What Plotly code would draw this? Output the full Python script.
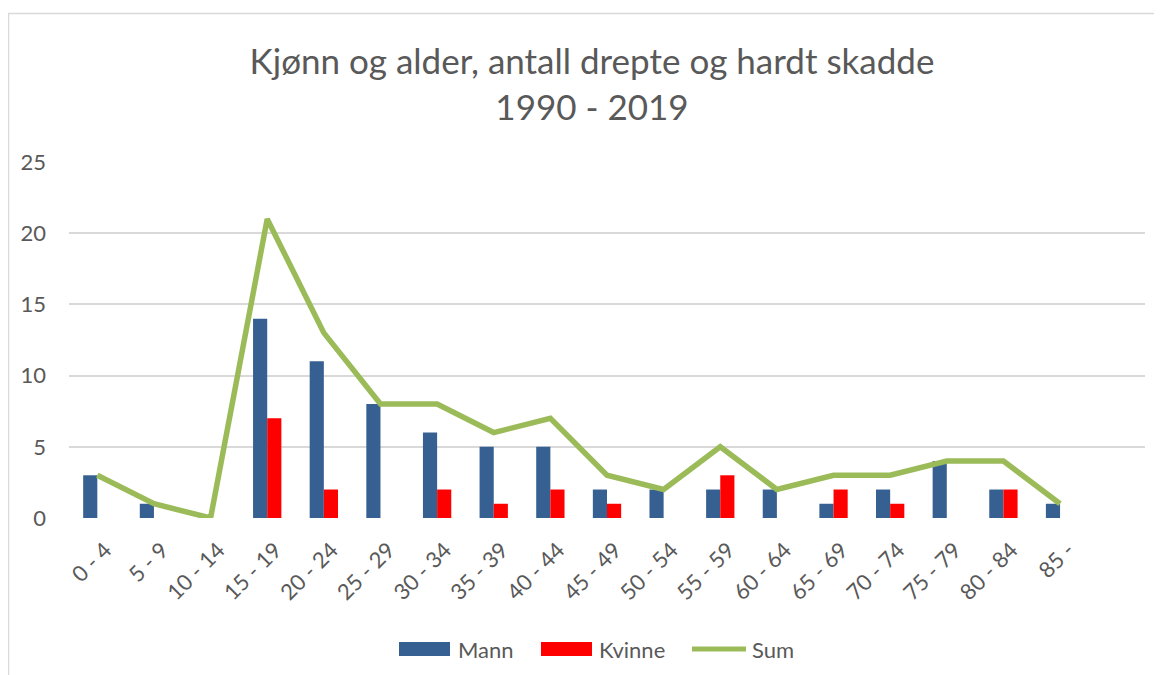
import plotly.graph_objects as go

# ---- data ----
age_groups = ["0 - 4", "5 - 9", "10 - 14", "15 - 19", "20 - 24", "25 - 29", "30 - 34",
              "35 - 39", "40 - 44", "45 - 49", "50 - 54", "55 - 59", "60 - 64",
              "65 - 69", "70 - 74", "75 - 79", "80 - 84", "85 -"]
mann = [3, 1, 0, 14, 11, 8, 6, 5, 5, 2, 2, 2, 2, 1, 2, 4, 2, 1]
kvinne = [0, 0, 0, 7, 2, 0, 2, 1, 2, 1, 0, 3, 0, 2, 1, 0, 2, 0]
total = [3, 1, 0, 21, 13, 8, 8, 6, 7, 3, 2, 5, 2, 3, 3, 4, 4, 1]
y_ticks = [0, 5, 10, 15, 20, 25]

# ---- styling ----
OFF = 8  # page body margin offset
W, H = 1162 - OFF, 675 - OFF
L, R, T, B = 69 - OFF, 1145 - OFF, 162 - OFF, 518 - OFF  # plot area in figure px
FONT = "Lato"
GREY = "#595959"
C_MANN = "#376092"
C_KVINNE = "#FF0000"
C_SUM = "#9BBB59"


def px_x(p):
    """page px -> paper x"""
    return (p - OFF - L) / (R - L)


def px_y(p):
    """page px -> paper y"""
    return (B - (p - OFF)) / (B - T)


xs = list(range(len(age_groups)))

fig = go.Figure()
fig.add_trace(go.Bar(x=xs, y=mann, name="Mann", marker_color=C_MANN,
                     marker_line_width=0, showlegend=False))
fig.add_trace(go.Bar(x=xs, y=kvinne, name="Kvinne", marker_color=C_KVINNE,
                     marker_line_width=0, showlegend=False))
fig.add_trace(go.Scatter(x=xs, y=total, name="Sum", mode="lines",
                         line=dict(color=C_SUM, width=5.5), showlegend=False))

fig.update_layout(
    width=W, height=H,
    margin=dict(l=L, r=W - R, t=T, b=H - B, pad=0),
    paper_bgcolor="white", plot_bgcolor="white",
    barmode="group", bargap=0.5, bargroupgap=0,
    font=dict(family=FONT, color=GREY),
    title=dict(text="Kjønn og alder, antall drepte og hardt skadde<br>1990 - 2019",
               x=(592 - OFF) / W, xanchor="center", xref="container",
               y=1 - (74 - OFF) / H, yanchor="middle", yref="container",
               font=dict(family=FONT, size=35, color=GREY)),
    xaxis=dict(range=[-0.5, 18.5], tickmode="array", tickvals=xs, ticktext=age_groups,
               tickangle=-45, tickfont=dict(size=22, color=GREY), showgrid=False,
               zeroline=False, showline=False, ticks="", ticklabelstandoff=14,
               ticklabelshift=8),
    yaxis=dict(range=[0, 25], tickmode="array", tickvals=y_ticks,
               tickfont=dict(size=22, color=GREY), showgrid=True,
               gridcolor="#D9D9D9", gridwidth=1.5, zeroline=False, showline=False,
               ticks="", ticklabelstandoff=22),
)

# chart border (Excel chart area frame, extends beyond the visible crop)
fig.add_shape(type="rect", xref="paper", yref="paper",
              x0=px_x(8.5), x1=px_x(1180), y0=px_y(700), y1=px_y(13.5),
              line=dict(color="#D9D9D9", width=1.5), fillcolor="rgba(0,0,0,0)", layer="below")

# custom legend
leg_y = 649
items = [("Mann", C_MANN, "rect", 399, 450, 456),
         ("Kvinne", C_KVINNE, "rect", 541, 592, 597),
         ("Sum", C_SUM, "line", 692, 746, 750)]
for name, col, kind, x0, x1, tx in items:
    if kind == "rect":
        fig.add_shape(type="rect", xref="paper", yref="paper",
                      x0=px_x(x0), x1=px_x(x1), y0=px_y(leg_y + 7), y1=px_y(leg_y - 7),
                      line=dict(width=0), fillcolor=col)
    else:
        fig.add_shape(type="line", xref="paper", yref="paper",
                      x0=px_x(x0), x1=px_x(x1), y0=px_y(leg_y), y1=px_y(leg_y),
                      line=dict(color=col, width=5))
    fig.add_annotation(text=name, xref="paper", yref="paper", x=px_x(tx), y=px_y(leg_y),
                       xanchor="left", yanchor="middle", showarrow=False,
                       font=dict(family=FONT, size=22, color=GREY))

fig.write_html("out.html")
